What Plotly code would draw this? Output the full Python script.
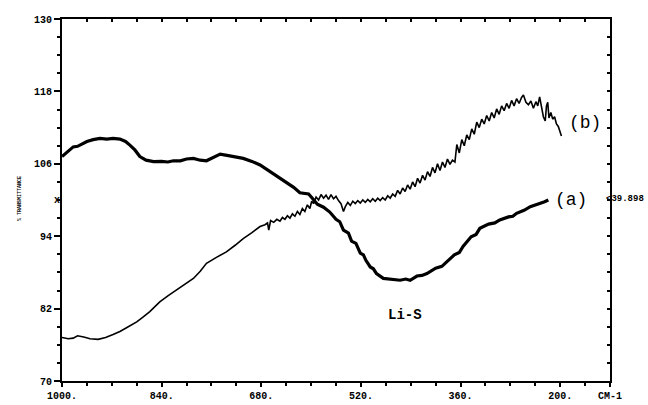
import plotly.graph_objects as go

# ---- data ----
a_wavenumber = [1000, 995, 990, 982, 975, 968, 960, 950, 939, 928,
                918, 907, 898, 891, 883, 875, 865, 853, 840, 830,
                821, 810, 800, 789, 778, 768, 757, 746, 735, 725,
                715, 709, 695, 682, 670, 661, 650, 639, 628, 618,
                610, 604, 598, 590, 580, 570, 560, 554, 548, 540,
                535, 528, 521, 516, 512, 505, 500, 495, 484, 470,
                457, 448, 441, 430, 422, 414, 400, 390, 382, 370,
                362, 356, 343, 335, 329, 315, 305, 297, 283, 276,
                270, 258, 248, 235, 225, 219]
a_transmittance = [107.2, 107.6, 108.0, 108.8, 108.9, 109.3, 109.7, 110.0, 110.2, 110.1,
                   110.2, 110.1, 109.7, 109.1, 108.3, 107.2, 106.6, 106.35, 106.4, 106.3,
                   106.5, 106.5, 106.8, 106.9, 106.6, 106.5, 107.1, 107.6, 107.4, 107.2,
                   107.0, 106.9, 106.4, 105.8, 105.0, 104.4, 103.6, 102.8, 102.1, 101.2,
                   101.1, 101.0, 100.3, 99.3, 98.8, 98.0, 96.8, 96.4, 95.0, 94.5,
                   93.2, 92.8, 91.2, 90.9, 90.0, 88.9, 88.6, 87.8, 87.0, 86.8,
                   86.7, 86.9, 86.7, 87.4, 87.5, 87.8, 88.7, 89.0, 89.8, 90.9,
                   91.3, 92.3, 93.9, 94.3, 95.3, 96.0, 96.2, 96.7, 97.2, 97.3,
                   97.8, 98.3, 98.9, 99.3, 99.7, 100.0]

b_wavenumber = [1000, 990, 982, 975, 965, 955, 942, 930, 918, 907,
                895, 880, 870, 859, 850, 843, 830, 816, 802, 789,
                778, 768, 752, 736, 722, 709, 695, 682, 674, 670,
                668, 665, 660, 655, 650, 646, 642, 638, 634, 630,
                626, 622, 618, 614, 610, 606, 602, 599, 596, 592,
                588, 584, 580, 576, 572, 568, 564, 560, 556, 552,
                548, 545, 541, 537, 533, 529, 525, 521, 517, 513,
                509, 505, 501, 497, 493, 489, 485, 481, 477, 473,
                469, 465, 461, 457, 453, 449, 445, 441, 437, 433,
                429, 425, 421, 417, 413, 409, 405, 401, 397, 393,
                389, 385, 381, 377, 373, 369, 366, 362, 358, 354,
                350, 346, 342, 338, 334, 330, 326, 322, 318, 314,
                310, 306, 302, 298, 294, 290, 286, 282, 278, 274,
                270, 266, 262, 259, 255, 251, 247, 243, 239, 236,
                233, 230, 227, 224, 222, 220, 218, 215, 212, 209,
                206, 203, 200, 198]
b_transmittance = [77.2, 77.0, 77.1, 77.5, 77.3, 77.0, 76.9, 77.2, 77.7, 78.2,
                   78.9, 79.8, 80.6, 81.5, 82.4, 83.1, 84.1, 85.1, 86.0, 87.0,
                   88.2, 89.5, 90.5, 91.4, 92.5, 93.6, 94.6, 95.6, 95.9, 96.2,
                   95.0, 96.6, 96.3, 96.8, 96.5, 97.1, 96.8, 97.4, 97.0, 97.7,
                   97.3, 98.1, 97.6, 98.6, 98.1, 99.2, 98.6, 99.8, 99.4, 100.5,
                   100.0, 100.9, 100.3, 100.8, 100.1, 100.9, 100.2, 100.6, 99.9, 99.4,
                   98.1, 98.9, 99.6, 99.1, 99.8, 99.4, 99.9, 99.5, 100.0, 99.6,
                   100.1, 99.7, 100.2, 99.8, 100.3, 99.9, 100.4, 100.0, 100.7, 100.3,
                   101.0, 100.6, 101.6, 101.0, 102.0, 101.4, 102.5, 101.8, 103.0, 102.2,
                   103.6, 102.8, 104.1, 103.3, 104.7, 103.9, 105.4, 104.5, 106.0, 104.9,
                   106.3, 105.4, 106.8, 105.9, 106.6, 106.3, 109.2, 107.8, 110.0, 109.0,
                   110.8, 110.0, 111.8, 110.9, 112.9, 112.0, 113.4, 112.6, 114.0, 113.1,
                   114.5, 113.6, 115.1, 114.2, 115.6, 114.8, 116.0, 115.2, 116.5, 115.6,
                   116.8, 116.0, 117.0, 117.4, 116.2, 115.8, 116.4, 115.2, 116.3, 115.6,
                   117.1, 115.4, 113.8, 113.1, 115.6, 116.2, 113.6, 114.5, 113.4, 113.8,
                   112.6, 112.2, 111.3, 110.6]

x_tick_values = [1000, 840, 680, 520, 360, 200, 120]
x_tick_labels = ["1000.", "840.", "680.", "520.", "360.", "200.", "CM-1"]
y_tick_values = [70, 82, 94, 106, 118, 130]
y_tick_labels = ["70", "82", "94", "106", "118", "130"]

MONO = "Liberation Mono"
tickfont = dict(family=MONO, size=10, color="black", weight="bold")

fig = go.Figure()
fig.add_trace(go.Scatter(x=a_wavenumber, y=a_transmittance, mode="lines",
                         line=dict(color="black", width=3.2), showlegend=False))
fig.add_trace(go.Scatter(x=b_wavenumber, y=b_transmittance, mode="lines",
                         line=dict(color="black", width=1.6), showlegend=False))
# invisible trace to activate the mirrored axes
fig.add_trace(go.Scatter(x=[1000], y=[70], xaxis="x2", yaxis="y2", mode="markers",
                         marker=dict(opacity=0), showlegend=False, hoverinfo="skip"))

fig.update_layout(
    width=648, height=405, autosize=False,
    margin=dict(l=62, r=38, t=19, b=24, pad=0, autoexpand=False),
    paper_bgcolor="white", plot_bgcolor="white",
    xaxis=dict(range=[1000, 120], tickvals=x_tick_values, ticktext=x_tick_labels,
               ticks="outside", ticklen=4, tickwidth=1.5, tickcolor="black",
               showline=True, linewidth=2, linecolor="black", showgrid=False,
               zeroline=False, tickfont=tickfont, automargin=False,
               minor=dict(tick0=1000, dtick=40, ticks="outside", ticklen=3,
                          tickwidth=1.5, tickcolor="black", showgrid=False)),
    yaxis=dict(range=[70, 130], tickvals=y_tick_values, ticktext=y_tick_labels,
               ticks="outside", ticklen=6, tickwidth=1.5, tickcolor="black",
               showline=True, linewidth=2, linecolor="black", showgrid=False,
               zeroline=False, tickfont=tickfont, automargin=False,
               minor=dict(tick0=70, dtick=3, ticks="outside", ticklen=3,
                          tickwidth=1.5, tickcolor="black", showgrid=False)),
    xaxis2=dict(overlaying="x", side="top", range=[1000, 120], tick0=1000, dtick=40,
                ticks="inside", ticklen=3, tickwidth=1.5, tickcolor="black",
                showticklabels=False, showline=True, linewidth=2, linecolor="black",
                showgrid=False, zeroline=False, automargin=False),
    yaxis2=dict(overlaying="y", side="right", range=[70, 130], tick0=70, dtick=3,
                ticks="inside", ticklen=3, tickwidth=1.5, tickcolor="black",
                showticklabels=False, showline=True, linewidth=2, linecolor="black",
                showgrid=False, zeroline=False, automargin=False),
)

annotations = [
    dict(x=160, y=112.8, xref="x", yref="y", text="(b)", showarrow=False,
         font=dict(family=MONO, size=18, color="black")),
    dict(x=183, y=100.0, xref="x", yref="y", text="(a)", showarrow=False,
         font=dict(family=MONO, size=18, color="black")),
    dict(x=449, y=80.9, xref="x", yref="y", text="Li-S", showarrow=False,
         font=dict(family=MONO, size=14, color="black", weight="bold")),
    dict(x=1.0, y=100.1, xref="paper", yref="y", text="<39.898", showarrow=False,
         xanchor="left", xshift=-6,
         font=dict(family=MONO, size=9, color="black", weight="bold")),
    dict(x=0.0, y=100.0, xref="paper", yref="y", text="x", showarrow=False,
         xanchor="right", xshift=0,
         font=dict(family=MONO, size=10, color="black", weight="bold")),
    dict(x=-0.0858, y=0.5055, xref="paper", yref="paper", text="% TRANSMITTANCE",
         showarrow=False, textangle=-90,
         font=dict(family=MONO, size=5, color="black", weight="bold")),
]
fig.update_layout(annotations=annotations)

fig.write_html("out.html", config={"displayModeBar": False},
               post_script="document.body.style.margin='0';document.body.style.overflow='hidden';")
